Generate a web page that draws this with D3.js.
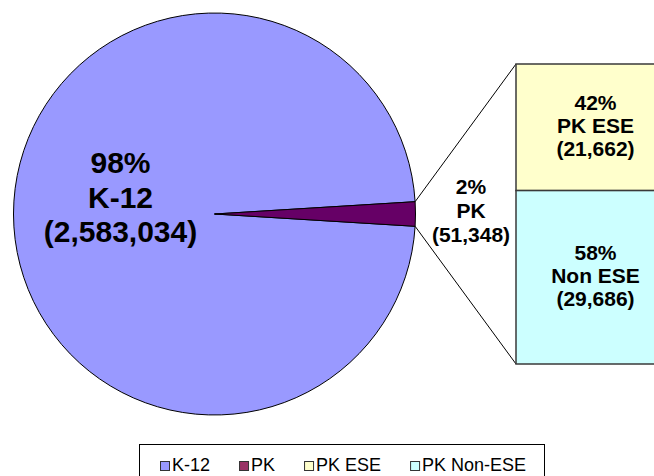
<!DOCTYPE html>
<html>
<head>
<meta charset="utf-8">
<script src="https://cdn.jsdelivr.net/npm/d3@7"></script>
<style>
  html, body { margin: 0; padding: 0; background: #fff; }
  svg { display: block; }
  text { font-family: "Liberation Sans", Arial, sans-serif; fill: #000; }
</style>
</head>
<body>
<svg id="chart" width="654" height="476"></svg>
<script>
// ---- Data ----
const pieCategories = ["K-12", "PK"];
const pieValues = [2583034, 51348];
const piePercents = ["98%", "2%"];
const pieLabelNames = ["K-12", "PK"];

const barCategories = ["PK ESE", "PK Non-ESE"];
const barValues = [21662, 29686];
const barPercents = ["42%", "58%"];
const barLabelNames = ["PK ESE", "Non ESE"];

const legendLabels = ["K-12", "PK", "PK ESE", "PK Non-ESE"];

// ---- Styles ----
const pieColors = ["#9999FF", "#660066"];
const barColors = ["#FFFFCC", "#CCFFFF"];
const legendColors = ["#9999FF", "#993366", "#FFFFCC", "#CCFFFF"];

const svg = d3.select("#chart");
const fmt = d3.format(",");

// ---- Pie ----
const cx = 214.5, cy = 214, r = 201;
const total = d3.sum(pieValues);
const f = pieValues[1] / total;
const start = Math.PI / 2 + Math.PI * f;
const pie = d3.pie().sort(null).startAngle(start).endAngle(start + 2 * Math.PI);
const arcs = pie(pieValues);
const arc = d3.arc().innerRadius(0).outerRadius(r);

const gPie = svg.append("g").attr("transform", `translate(${cx},${cy})`);
gPie.selectAll("path").data(arcs).join("path")
  .attr("d", arc)
  .attr("fill", (d, i) => pieColors[i])
  .attr("stroke", "#000")
  .attr("stroke-width", 1);

// ---- Bar ----
const barX = 516, barW = 160, barTop = 64, barBottom = 364;
const barTotal = d3.sum(barValues);
const y = d3.scaleLinear().domain([0, barTotal]).range([barTop, barBottom]);
const stacks = [];
let acc = 0;
barValues.forEach((v, i) => { stacks.push({ i, y0: acc, y1: acc + v, v }); acc += v; });

// connector lines
const pk = arcs[1];
const p1 = [cx + r * Math.sin(pk.startAngle), cy - r * Math.cos(pk.startAngle)];
const p2 = [cx + r * Math.sin(pk.endAngle), cy - r * Math.cos(pk.endAngle)];
svg.append("line").attr("x1", p1[0]).attr("y1", p1[1]).attr("x2", barX).attr("y2", y(0))
  .attr("stroke", "#000").attr("stroke-width", 1);
svg.append("line").attr("x1", p2[0]).attr("y1", p2[1]).attr("x2", barX).attr("y2", y(barTotal))
  .attr("stroke", "#000").attr("stroke-width", 1);

svg.append("g").selectAll("rect").data(stacks).join("rect")
  .attr("x", barX)
  .attr("y", d => y(d.y0))
  .attr("width", barW)
  .attr("height", d => y(d.y1) - y(d.y0))
  .attr("fill", d => barColors[d.i])
  .attr("stroke", "#3a3a3a")
  .attr("stroke-width", 1.5);

// ---- Labels ----
function multiLabel(x, yc, lines, size, lh) {
  const t = svg.append("text")
    .attr("text-anchor", "middle")
    .attr("font-weight", "bold")
    .attr("font-size", size);
  const n = lines.length;
  lines.forEach((s, k) => {
    t.append("tspan").attr("x", x)
      .attr("y", yc + (k - (n - 1) / 2) * lh + size * 0.36)
      .text(s);
  });
}

multiLabel(120.5, 197, [piePercents[0], pieLabelNames[0], "(" + fmt(pieValues[0]) + ")"], 30, 34.5);
multiLabel(471, 210.5, [piePercents[1], pieLabelNames[1], "(" + fmt(pieValues[1]) + ")"], 21, 24);

stacks.forEach(d => {
  const yc = (y(d.y0) + y(d.y1)) / 2 - 2;
  multiLabel(595.5, yc, [barPercents[d.i], barLabelNames[d.i], "(" + fmt(d.v) + ")"], 21, 23);
});

// ---- Legend ----
svg.append("rect")
  .attr("x", 139.5).attr("y", 444.5)
  .attr("width", 405).attr("height", 40)
  .attr("fill", "#fff").attr("stroke", "#000").attr("stroke-width", 1);

const gLeg = svg.append("g");
let lx = 160;
legendLabels.forEach((lab, i) => {
  gLeg.append("rect")
    .attr("x", lx + 0.5).attr("y", 461.5)
    .attr("width", 9).attr("height", 9)
    .attr("fill", legendColors[i])
    .attr("stroke", "#333").attr("stroke-width", 1);
  const t = gLeg.append("text")
    .attr("x", lx + 12).attr("y", 471)
    .attr("font-size", 18)
    .text(lab);
  lx += 12 + t.node().getComputedTextLength() + 29;
});
</script>
</body>
</html>
